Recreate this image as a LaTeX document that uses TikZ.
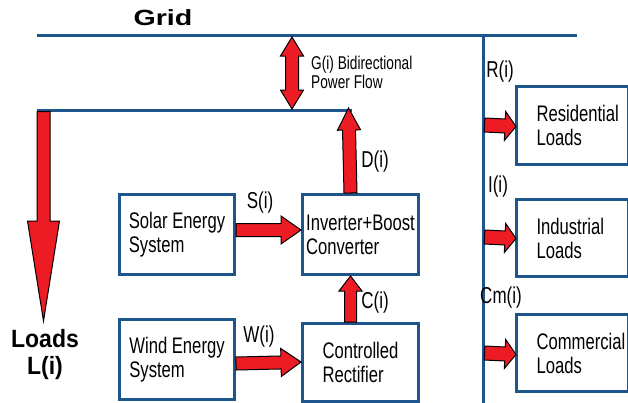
\documentclass[tikz,border=0pt]{standalone}
\usepackage{fontspec}
\setmainfont{Liberation Sans}
\newfontfamily\nar[FakeStretch=0.74]{Liberation Sans}
\newfontfamily\semi[FakeStretch=0.92]{Liberation Sans}
\usetikzlibrary{calc}
\definecolor{gridblue}{RGB}{30,85,140}
\definecolor{flowred}{RGB}{237,28,36}
\tikzset{
  box/.style={draw=gridblue, line width=3pt, fill=white, rectangle, anchor=north west,
    align=left, inner sep=0pt, font=\nar\fontsize{22.5}{24}\selectfont},
  rbox/.style={box, text width=72pt, inner xsep=20pt},
  bus/.style={draw=gridblue, line width=3pt},
  flow/.style={fill=flowred, draw=black, line width=1pt, line join=miter},
  lbl/.style={inner sep=0pt, font=\nar\fontsize{23}{24}\selectfont},
  glbl/.style={inner sep=0pt, align=left, anchor=west, font=\nar\fontsize{18.5}{19.5}\selectfont},
}
\newcommand\blockarrow[5]{%
  \coordinate (hb) at ($(#2)!#5!(#1)$);
  \filldraw[flow] ($(#1)!#3!90:(#2)$) -- ($(hb)!#3!90:(#2)$) -- ($(hb)!#4!90:(#2)$) -- (#2)
    -- ($(hb)!#4!-90:(#2)$) -- ($(hb)!#3!-90:(#2)$) -- ($(#1)!#3!-90:(#2)$) -- cycle;}
\newcommand\dblarrow[5]{%
  \coordinate (ha) at ($(#1)!#5!(#2)$);
  \coordinate (hb) at ($(#2)!#5!(#1)$);
  \filldraw[flow] (#1) -- ($(ha)!#4!90:(#2)$) -- ($(ha)!#3!90:(#2)$) -- ($(hb)!#3!90:(#2)$)
    -- ($(hb)!#4!90:(#2)$) -- (#2) -- ($(hb)!#4!-90:(#2)$) -- ($(hb)!#3!-90:(#2)$)
    -- ($(ha)!#3!-90:(#2)$) -- ($(ha)!#4!-90:(#2)$) -- cycle;}
\begin{document}
\begin{tikzpicture}[x=1pt, y=-1pt]
\useasboundingbox (0,0) rectangle (628,402);
\begin{scope}
\clip (0,0) rectangle (628,402);
% bus lines
\coordinate (gridL) at (37,35);
\coordinate (gridR) at (577,35);
\coordinate (busTop) at (483,35);
\coordinate (busBot) at (483,406);
\coordinate (loadL) at (37,110);
\coordinate (loadR) at (352,110);
\draw[bus] (gridL) -- (gridR);
\draw[bus] (busTop) -- (busBot);
\draw[bus] (loadL) -- (loadR);

% boxes
\node[box, minimum width=115pt, minimum height=80pt] (solar) at (118,193) {Solar Energy\\System};
\node[box, minimum width=115pt, minimum height=80pt] (wind) at (118,318) {Wind Energy\\System};
\node[box, minimum width=116pt, minimum height=80pt] (inv) at (301,193) {Inverter+Boost\\Converter};
\node[box, minimum width=116pt, minimum height=78pt] (rect) at (301,322) {Controlled\\Rectifier};
\node[rbox, minimum width=112pt, minimum height=78pt] (res) at (515,85) {\mbox{Residential}\\Loads};
\node[rbox, minimum width=112pt, minimum height=77pt] (ind) at (515,198) {\mbox{Industrial}\\Loads};
\node[rbox, minimum width=112pt, minimum height=77pt] (com) at (515,313) {\mbox{Commercial}\\Loads};

% labels
\node[inner sep=0pt, font=\bfseries\fontsize{22}{24}\selectfont] (gridlbl) at (163,18) {\scalebox{1.3}[1]{Grid}};
\node[inner sep=0pt, align=center, font=\semi\bfseries\fontsize{25}{27}\selectfont] (loadslbl) at (45,355) {Loads\\L(i)};
\node[glbl] (glabel) at (311,72.5) {G(i) Bidirectional\\Power Flow};
\node[lbl] (slbl) at (260,203) {S(i)};
\node[lbl] (wlbl) at (259,337) {W(i)};
\node[lbl] (clbl) at (375,303) {C(i)};
\node[lbl] (dlbl) at (375,162) {D(i)};
\node[lbl] (rlbl) at (500,72) {R(i)};
\node[lbl] (ilbl) at (498,187) {I(i)};
\node[lbl] (cmlbl) at (501,298) {Cm(i)};

% flow arrows
\coordinate (lA) at (43.5,111.5);
\coordinate (lB) at (43.5,321);
\blockarrow{lA}{lB}{6.5pt}{16pt}{100pt}
\coordinate (gA) at (292,37);
\coordinate (gB) at (292,109);
\dblarrow{gA}{gB}{6.5pt}{11.5pt}{19pt}
\coordinate (dA) at ($(inv.north)+(-10,0)$);
\coordinate (dB) at (348.5,108);
\blockarrow{dA}{dB}{6.5pt}{11.5pt}{22pt}
\coordinate (cA) at ($(rect.north)+(-10,0)$);
\coordinate (cB) at ($(inv.south)+(-10,0)$);
\blockarrow{cA}{cB}{6pt}{11.5pt}{15pt}
\coordinate (sA) at ($(solar.east)+(0,-4.5)$);
\coordinate (sB) at ($(inv.west)+(0,-4.5)$);
\blockarrow{sA}{sB}{6.5pt}{14pt}{20pt}
\coordinate (wA) at ($(wind.east)+(0,4)$);
\coordinate (wB) at (301,362);
\blockarrow{wA}{wB}{6.5pt}{14pt}{20pt}
\coordinate (rA) at (484.5,125);
\coordinate (rB) at ($(res.west)+(1,1)$);
\blockarrow{rA}{rB}{7pt}{14.5pt}{11pt}
\coordinate (iA) at (484.5,237);
\coordinate (iB) at ($(ind.west)+(1,0.5)$);
\blockarrow{iA}{iB}{7pt}{14.5pt}{11pt}
\coordinate (mA) at (484.5,353);
\coordinate (mB) at ($(com.west)+(1,1.5)$);
\blockarrow{mA}{mB}{7pt}{14.5pt}{11pt}
\end{scope}
\end{tikzpicture}
\end{document}
